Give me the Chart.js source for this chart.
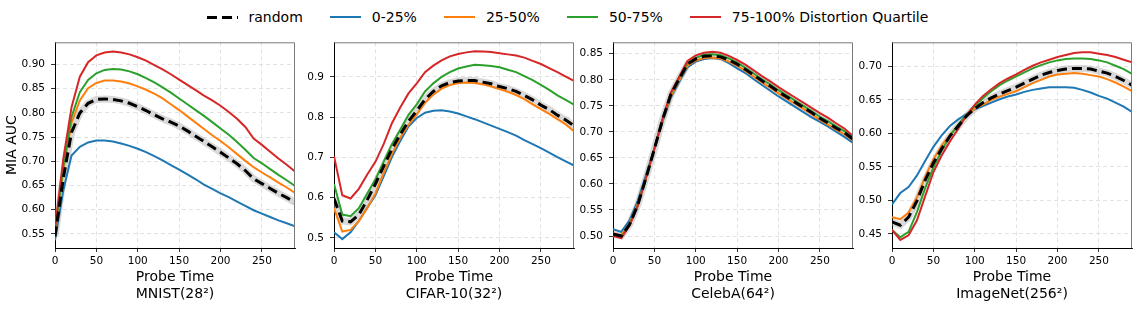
<!DOCTYPE html>
<html>
<head>
<meta charset="utf-8">
<script src="https://cdn.jsdelivr.net/npm/chart.js@4.4.1/dist/chart.umd.min.js"></script>
<style>
  body { margin: 0; background: #fff; width: 1142px; height: 317px; position: relative; overflow: hidden; font-family: 'DejaVu Sans', sans-serif; }
  canvas { position: absolute; top: 30px; }
  #legend { position: absolute; left: 207px; top: 7px; display: flex; align-items: center; font-size: 14px; line-height: 20px; white-space: nowrap; color: #000; }
  .sample { width: 31px; height: 0; margin-right: 10.5px; }
  .item { margin-right: 27.5px; }
</style>
</head>
<body>
<div id="legend"></div>
<canvas id="c1" width="300" height="287" style="left:0px"></canvas>
<canvas id="c2" width="280" height="287" style="left:300px"></canvas>
<canvas id="c3" width="279" height="287" style="left:579px"></canvas>
<canvas id="c4" width="284" height="287" style="left:858px"></canvas>
<script>
// 探测时间（横轴）
const times = [0, 10, 20, 30, 40, 50, 60, 70, 80, 90, 100, 110, 120, 130, 140, 150, 160, 170, 180, 190, 200, 210, 220, 230, 240, 250, 260, 270, 280, 290];
const xTicks = [0, 50, 100, 150, 200, 250];

const seriesNames = ['random', '0-25%', '25-50%', '50-75%', '75-100% Distortion Quartile'];

// MNIST
const mnistRandom = [0.545, 0.665, 0.760, 0.800, 0.820, 0.828, 0.829, 0.828, 0.825, 0.820, 0.813, 0.805, 0.796, 0.788, 0.781, 0.773, 0.763, 0.752, 0.741, 0.730, 0.719, 0.707, 0.695, 0.681, 0.664, 0.654, 0.644, 0.634, 0.625, 0.615];
const mnistQ1 = [0.537, 0.640, 0.712, 0.730, 0.739, 0.743, 0.743, 0.741, 0.737, 0.732, 0.726, 0.719, 0.711, 0.702, 0.692, 0.683, 0.673, 0.663, 0.652, 0.643, 0.634, 0.626, 0.617, 0.608, 0.599, 0.592, 0.585, 0.578, 0.572, 0.566];
const mnistQ2 = [0.550, 0.680, 0.780, 0.826, 0.851, 0.862, 0.867, 0.867, 0.865, 0.861, 0.855, 0.848, 0.840, 0.830, 0.818, 0.806, 0.793, 0.780, 0.767, 0.754, 0.742, 0.729, 0.715, 0.701, 0.688, 0.677, 0.667, 0.656, 0.646, 0.635];
const mnistQ3 = [0.555, 0.690, 0.792, 0.843, 0.868, 0.882, 0.889, 0.891, 0.890, 0.886, 0.880, 0.872, 0.863, 0.853, 0.842, 0.830, 0.818, 0.806, 0.794, 0.781, 0.768, 0.755, 0.740, 0.724, 0.707, 0.696, 0.684, 0.672, 0.661, 0.649];
const mnistQ4 = [0.560, 0.705, 0.812, 0.875, 0.905, 0.919, 0.925, 0.927, 0.925, 0.921, 0.915, 0.908, 0.899, 0.890, 0.880, 0.869, 0.858, 0.847, 0.836, 0.826, 0.815, 0.802, 0.788, 0.771, 0.747, 0.734, 0.720, 0.706, 0.693, 0.679];
const mnistTicks = [0.55, 0.60, 0.65, 0.70, 0.75, 0.80, 0.85, 0.90];

// CIFAR-10
const cifarRandom = [0.598, 0.542, 0.540, 0.558, 0.594, 0.634, 0.678, 0.721, 0.757, 0.790, 0.816, 0.844, 0.864, 0.878, 0.886, 0.890, 0.891, 0.891, 0.887, 0.883, 0.876, 0.871, 0.864, 0.854, 0.843, 0.830, 0.819, 0.805, 0.793, 0.779];
const cifarQ1 = [0.514, 0.497, 0.514, 0.542, 0.574, 0.606, 0.653, 0.701, 0.741, 0.777, 0.798, 0.811, 0.816, 0.817, 0.814, 0.809, 0.802, 0.795, 0.787, 0.779, 0.771, 0.763, 0.754, 0.743, 0.733, 0.723, 0.712, 0.701, 0.690, 0.680];
const cifarQ2 = [0.574, 0.516, 0.520, 0.542, 0.574, 0.610, 0.661, 0.709, 0.749, 0.781, 0.807, 0.836, 0.856, 0.871, 0.880, 0.885, 0.886, 0.885, 0.882, 0.876, 0.870, 0.863, 0.855, 0.845, 0.832, 0.820, 0.808, 0.795, 0.782, 0.765];
const cifarQ3 = [0.634, 0.558, 0.554, 0.574, 0.610, 0.645, 0.689, 0.733, 0.769, 0.806, 0.832, 0.864, 0.884, 0.900, 0.912, 0.921, 0.926, 0.930, 0.929, 0.927, 0.924, 0.918, 0.912, 0.902, 0.892, 0.880, 0.868, 0.854, 0.843, 0.831];
const cifarQ4 = [0.703, 0.606, 0.598, 0.622, 0.657, 0.689, 0.733, 0.785, 0.824, 0.859, 0.884, 0.912, 0.928, 0.941, 0.951, 0.957, 0.961, 0.964, 0.963, 0.962, 0.959, 0.956, 0.953, 0.948, 0.940, 0.932, 0.922, 0.912, 0.901, 0.890];
const cifarTicks = [0.5, 0.6, 0.7, 0.8, 0.9];

// CelebA
const celebaRandom = [0.504, 0.500, 0.522, 0.560, 0.612, 0.667, 0.724, 0.772, 0.802, 0.830, 0.840, 0.845, 0.846, 0.844, 0.838, 0.830, 0.820, 0.809, 0.798, 0.788, 0.777, 0.767, 0.757, 0.747, 0.737, 0.726, 0.717, 0.707, 0.698, 0.686];
const celebaQ1 = [0.513, 0.508, 0.530, 0.568, 0.618, 0.668, 0.720, 0.766, 0.796, 0.824, 0.835, 0.840, 0.842, 0.840, 0.832, 0.822, 0.813, 0.801, 0.790, 0.779, 0.768, 0.758, 0.748, 0.738, 0.728, 0.719, 0.710, 0.700, 0.690, 0.679];
const celebaQ2 = [0.505, 0.502, 0.524, 0.562, 0.613, 0.666, 0.722, 0.769, 0.799, 0.827, 0.837, 0.842, 0.843, 0.841, 0.835, 0.827, 0.817, 0.806, 0.795, 0.785, 0.774, 0.764, 0.754, 0.744, 0.734, 0.723, 0.714, 0.704, 0.695, 0.683];
const celebaQ3 = [0.502, 0.498, 0.522, 0.560, 0.613, 0.668, 0.725, 0.774, 0.804, 0.832, 0.842, 0.848, 0.849, 0.847, 0.841, 0.833, 0.823, 0.812, 0.801, 0.791, 0.780, 0.770, 0.760, 0.750, 0.740, 0.729, 0.720, 0.710, 0.701, 0.689];
const celebaQ4 = [0.500, 0.496, 0.520, 0.558, 0.612, 0.668, 0.726, 0.776, 0.806, 0.836, 0.847, 0.852, 0.854, 0.852, 0.846, 0.838, 0.829, 0.818, 0.807, 0.797, 0.786, 0.776, 0.766, 0.756, 0.746, 0.736, 0.727, 0.716, 0.706, 0.692];
const celebaTicks = [0.50, 0.55, 0.60, 0.65, 0.70, 0.75, 0.80, 0.85];

// ImageNet
const imagenetRandom = [0.468, 0.463, 0.475, 0.499, 0.530, 0.556, 0.577, 0.596, 0.611, 0.626, 0.637, 0.646, 0.653, 0.659, 0.664, 0.669, 0.675, 0.681, 0.687, 0.691, 0.694, 0.696, 0.697, 0.697, 0.696, 0.693, 0.690, 0.685, 0.679, 0.672];
const imagenetQ1 = [0.494, 0.511, 0.520, 0.537, 0.559, 0.580, 0.597, 0.611, 0.621, 0.629, 0.636, 0.641, 0.646, 0.651, 0.655, 0.658, 0.662, 0.665, 0.667, 0.669, 0.669, 0.669, 0.668, 0.665, 0.661, 0.656, 0.652, 0.646, 0.640, 0.632];
const imagenetQ2 = [0.475, 0.472, 0.482, 0.504, 0.535, 0.561, 0.582, 0.598, 0.612, 0.625, 0.637, 0.643, 0.650, 0.655, 0.659, 0.663, 0.669, 0.675, 0.680, 0.685, 0.688, 0.689, 0.690, 0.689, 0.687, 0.685, 0.681, 0.676, 0.670, 0.663];
const imagenetQ3 = [0.456, 0.445, 0.453, 0.482, 0.518, 0.549, 0.574, 0.596, 0.613, 0.628, 0.641, 0.653, 0.663, 0.672, 0.679, 0.685, 0.691, 0.697, 0.702, 0.706, 0.709, 0.711, 0.712, 0.712, 0.711, 0.709, 0.706, 0.701, 0.696, 0.689];
const imagenetQ4 = [0.456, 0.441, 0.448, 0.470, 0.506, 0.542, 0.567, 0.588, 0.607, 0.627, 0.643, 0.656, 0.666, 0.675, 0.682, 0.688, 0.695, 0.701, 0.706, 0.710, 0.714, 0.717, 0.720, 0.721, 0.721, 0.719, 0.717, 0.714, 0.710, 0.706];
const imagenetTicks = [0.45, 0.50, 0.55, 0.60, 0.65, 0.70];

const colors = ['#000000', '#1f77b4', '#ff7f0e', '#2ca02c', '#d62728'];
const FONT = "'DejaVu Sans', sans-serif";

Chart.defaults.color = '#000';
Chart.defaults.font.family = FONT;

// 上、右边框（灰色）
const framePlugin = {
    id: 'frame',
    afterDraw(chart) {
        const { ctx, chartArea: a } = chart;
        ctx.save();
        ctx.strokeStyle = '#7a7a7a';
        ctx.lineWidth = 1;
        ctx.beginPath();
        ctx.moveTo(a.left, a.top + 0.5);
        ctx.lineTo(a.right - 0.5, a.top + 0.5);
        ctx.lineTo(a.right - 0.5, a.bottom);
        ctx.stroke();
        ctx.restore();
    }
};

function pts(values) {
    return values.map((v, i) => ({ x: times[i], y: v }));
}

function makeChart(id, opts) {
    const [rnd, q1, q2, q3, q4] = opts.series;
    const line = (label, values, color) => ({
        label: label,
        data: pts(values),
        borderColor: color,
        borderWidth: 2,
        pointRadius: 0,
        tension: 0,
        fill: false
    });
    const datasets = [
        {
            label: seriesNames[0],
            data: pts(rnd),
            borderColor: '#000',
            borderWidth: 3,
            borderDash: [10, 5],
            pointRadius: 0,
            tension: 0,
            fill: false
        },
        line(seriesNames[4], q4, colors[4]),
        line(seriesNames[3], q3, colors[3]),
        line(seriesNames[2], q2, colors[2]),
        line(seriesNames[1], q1, colors[1]),
        {
            label: 'band',
            data: pts(rnd),
            borderColor: 'rgba(170,170,170,0.45)',
            borderWidth: 7,
            pointRadius: 0,
            tension: 0,
            fill: false
        }
    ];

    return new Chart(document.getElementById(id), {
        type: 'line',
        data: { datasets: datasets },
        plugins: [framePlugin],
        options: {
            responsive: false,
            animation: false,
            layout: { padding: { top: 4, right: opts.padRight, left: 0, bottom: 0 } },
            plugins: { legend: { display: false }, tooltip: { enabled: false } },
            scales: {
                x: {
                    type: 'linear',
                    min: 0,
                    max: 290,
                    afterBuildTicks: s => { s.ticks = xTicks.map(v => ({ value: v })); },
                    afterFit: s => { s.height = 69; },
                    grid: { color: '#dadada', lineWidth: 0.8, tickColor: '#000', tickLength: 4 },
                    border: { color: '#000', width: 1, dash: [4, 3] },
                    ticks: { font: { size: 10.5 }, padding: 3, maxRotation: 0 },
                    title: {
                        display: true,
                        text: ['Probe Time', opts.title],
                        font: { size: 14, lineHeight: 1.2 },
                        padding: { top: 0, bottom: 14 }
                    }
                },
                y: {
                    type: 'linear',
                    min: opts.yMin,
                    max: opts.yMax,
                    afterBuildTicks: s => { s.ticks = opts.yTicks.map(v => ({ value: v })); },
                    afterFit: s => { s.width = opts.axisWidth; },
                    grid: { color: '#dadada', lineWidth: 0.8, tickColor: '#000', tickLength: 4 },
                    border: { color: '#000', width: 1, dash: [4, 3] },
                    ticks: {
                        font: { size: 10.5 },
                        padding: 6,
                        callback: v => v.toFixed(opts.decimals)
                    },
                    title: {
                        display: !!opts.yTitle,
                        text: opts.yTitle || '',
                        font: { size: 14 },
                        padding: { top: 4, bottom: 0 }
                    }
                }
            }
        }
    });
}

makeChart('c1', { series: [mnistRandom, mnistQ1, mnistQ2, mnistQ3, mnistQ4], yMin: 0.521, yMax: 0.946, yTicks: mnistTicks, decimals: 2, title: 'MNIST(28²)', axisWidth: 55, padRight: 5, yTitle: 'MIA AUC' });
makeChart('c2', { series: [cifarRandom, cifarQ1, cifarQ2, cifarQ3, cifarQ4], yMin: 0.475, yMax: 0.986, yTicks: cifarTicks, decimals: 1, title: 'CIFAR-10(32²)', axisWidth: 34, padRight: 6 });
makeChart('c3', { series: [celebaRandom, celebaQ1, celebaQ2, celebaQ3, celebaQ4], yMin: 0.477, yMax: 0.872, yTicks: celebaTicks, decimals: 2, title: 'CelebA(64²)', axisWidth: 34, padRight: 5 });
makeChart('c4', { series: [imagenetRandom, imagenetQ1, imagenetQ2, imagenetQ3, imagenetQ4], yMin: 0.429, yMax: 0.736, yTicks: imagenetTicks, decimals: 2, title: 'ImageNet(256²)', axisWidth: 34, padRight: 10 });

// 图例
const legend = document.getElementById('legend');
seriesNames.forEach((name, i) => {
    const sample = document.createElement('span');
    sample.className = 'sample';
    if (i === 0) {
        sample.style.height = '3px';
        sample.style.background = 'repeating-linear-gradient(90deg, #000 0 10px, transparent 10px 15px)';
    } else {
        sample.style.borderTop = '2px solid ' + colors[i];
    }
    const text = document.createElement('span');
    text.className = 'item';
    text.textContent = name;
    legend.appendChild(sample);
    legend.appendChild(text);
});
</script>
</body>
</html>
